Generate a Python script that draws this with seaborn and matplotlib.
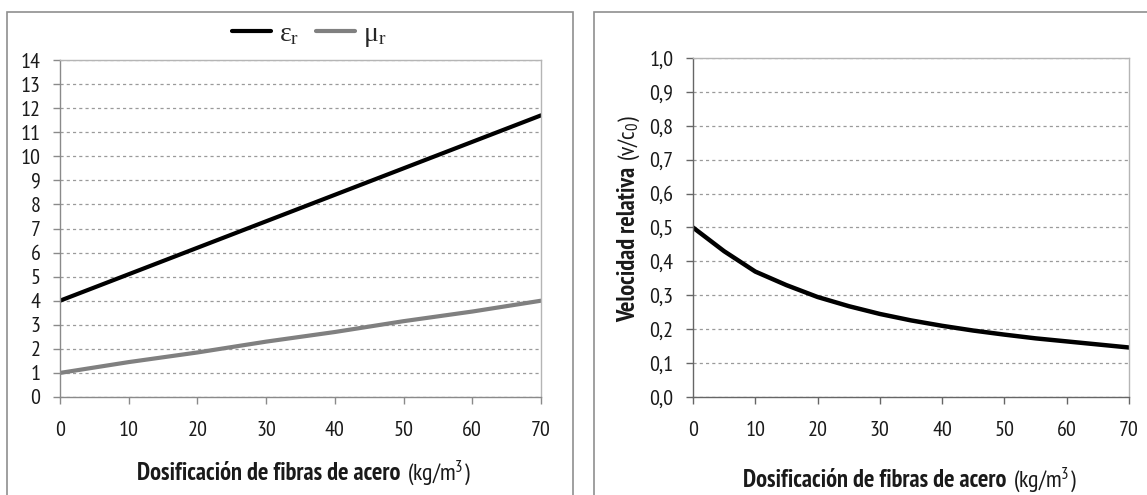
import matplotlib
matplotlib.use("Agg")
import matplotlib.pyplot as plt
from matplotlib.patches import Rectangle
from matplotlib.ticker import MultipleLocator, FuncFormatter
from matplotlib import font_manager
import pandas as pd
import seaborn as sns

# values
dosage = [0, 10, 20, 30, 40, 50, 60, 70]
eps_r = [4.0, 5.1, 6.2, 7.3, 8.4, 9.5, 10.6, 11.7]
mu_r = [1.0, 1.45, 1.85, 2.3, 2.7, 3.15, 3.55, 4.0]

dosage_v = [0, 5, 10, 15, 20, 25, 30, 35, 40, 45, 50, 55, 60, 65, 70]
velocity = [0.50, 0.43, 0.37, 0.33, 0.295, 0.268, 0.245, 0.226, 0.21,
            0.196, 0.184, 0.173, 0.164, 0.155, 0.146]

XLABEL_BOLD = "Dosificación de fibras de acero"
XLABEL_UNIT = "(kg/m$^3$)"
YLABEL_BOLD = "Velocidad relativa"
YLABEL_UNIT = "(v/c$_0$)"
LEGEND_LABELS = [r"$\mathregular{ε_r}$", r"$\mathregular{μ_r}$"]

# narrow sans like Arial Narrow that has a bold face
weights = {}
for f in font_manager.fontManager.ttflist:
    weights.setdefault(f.name, set()).add(f.weight)
candidates = ["Liberation Sans Narrow", "Arial Narrow", "Archivo Narrow", "PT Sans Narrow",
              "Roboto Condensed", "Pragati Narrow", "Fira Sans Condensed", "Liberation Sans"]
FONT = next(n for n in candidates
            if n in weights and any(int(w) >= 700 for w in weights[n] if str(w).isdigit()))

sns.set_theme(style="white")
plt.rcParams["font.family"] = [FONT, "DejaVu Sans"]
plt.rcParams["mathtext.default"] = "regular"

W, H = 1147, 495
fig = plt.figure(figsize=(W / 100, H / 100), dpi=100)
renderer = fig.canvas.get_renderer()


def text_width(s, size, weight="normal"):
    t = fig.text(0, 0, s, fontsize=size, fontweight=weight)
    w = t.get_window_extent(renderer).width
    t.remove()
    return w


def fit_size(s, target_px, weight="normal"):
    return 10 * target_px / text_width(s, 10, weight)


TICK_SIZE = fit_size("14", 20)
BOLD_SIZE = fit_size(XLABEL_BOLD, 266, "bold")
UNIT_SIZE = fit_size(XLABEL_UNIT, 65)


def px_axes(left, top, right, bottom):
    return fig.add_axes([left / W, 1 - bottom / H, (right - left) / W, (bottom - top) / H])


def style_axes(ax, axis_color):
    for s in ["left", "bottom"]:
        ax.spines[s].set_color(axis_color)
        ax.spines[s].set_linewidth(1.0)
    for s in ["top", "right"]:
        ax.spines[s].set_color("#b5b5b5")
        ax.spines[s].set_linewidth(1.0)
    ax.tick_params(axis="both", which="major", direction="out", length=5,
                   width=1, color=axis_color, labelcolor="#1a1a1a", left=True, bottom=True,
                   labelsize=TICK_SIZE)
    ax.tick_params(axis="x", pad=12)
    ax.tick_params(axis="y", pad=9)
    ax.yaxis.grid(True, linestyle=(0, (2.5, 2.5)), color="#9a9a9a", linewidth=0.9)
    ax.xaxis.grid(False)
    ax.set_xlim(0, 70)
    ax.xaxis.set_major_locator(MultipleLocator(10))
    ax.set_xlabel("")
    ax.set_ylabel("")


def xlabel_parts(x_px, baseline_px):
    y = 1 - baseline_px / H
    fig.text(x_px / W, y, XLABEL_BOLD, fontsize=BOLD_SIZE, fontweight="bold",
             ha="left", va="baseline", color="#1a1a1a")
    x2 = x_px + text_width(XLABEL_BOLD, BOLD_SIZE, "bold") + 7
    fig.text(x2 / W, y, XLABEL_UNIT, fontsize=UNIT_SIZE, ha="left", va="baseline",
             color="#1a1a1a")


# chart area frames
fig.add_artist(Rectangle((7 / W, -0.1), (573 - 7) / W, 1 - 12 / H + 0.1,
                         transform=fig.transFigure, fill=False, ec="#8f8f8f", lw=1.2))
fig.add_artist(Rectangle((594 / W, -0.1), 0.6, 1 - 12 / H + 0.1,
                         transform=fig.transFigure, fill=False, ec="#8f8f8f", lw=1.2))

# left chart: relative permittivity and permeability
df1 = pd.DataFrame({"x": dosage * 2, "y": eps_r + mu_r,
                    "s": ["eps"] * len(dosage) + ["mu"] * len(dosage)})
ax1 = px_axes(60, 60, 541, 397)
sns.lineplot(data=df1, x="x", y="y", hue="s", palette={"eps": "#000000", "mu": "#808080"},
             linewidth=3, ax=ax1, legend=False)
style_axes(ax1, "#8a8a8a")
ax1.set_ylim(0, 14)
ax1.yaxis.set_major_locator(MultipleLocator(1))
xlabel_parts(137, 480)

handles = ax1.get_lines()[:2]
fig.legend(handles, LEGEND_LABELS, loc="center", bbox_to_anchor=(309 / W, 1 - 35 / H), ncol=2,
           frameon=False, handlelength=1.4, handletextpad=0.3, columnspacing=0.6,
           prop={"family": "Liberation Serif", "size": 20})

# right chart: relative velocity
df2 = pd.DataFrame({"x": dosage_v, "y": velocity})
ax2 = px_axes(693, 58, 1129, 397)
sns.lineplot(data=df2, x="x", y="y", color="#000000", linewidth=3.2, ax=ax2)
style_axes(ax2, "#666666")
ax2.set_ylim(0, 1)
ax2.yaxis.set_major_locator(MultipleLocator(0.1))
ax2.yaxis.set_major_formatter(FuncFormatter(lambda v, p: f"{v:.1f}".replace(".", ",")))
xlabel_parts(743, 487)

# rotated y label, reading bottom to top
y0 = 322
fig.text(635 / W, 1 - y0 / H, YLABEL_BOLD, fontsize=BOLD_SIZE, fontweight="bold",
         rotation=90, rotation_mode="anchor", ha="left", va="baseline", color="#1a1a1a")
y1 = y0 - text_width(YLABEL_BOLD, BOLD_SIZE, "bold") - 6
fig.text(635 / W, 1 - y1 / H, YLABEL_UNIT, fontsize=UNIT_SIZE,
         rotation=90, rotation_mode="anchor", ha="left", va="baseline", color="#1a1a1a")

fig.savefig("out.png", dpi=100)
